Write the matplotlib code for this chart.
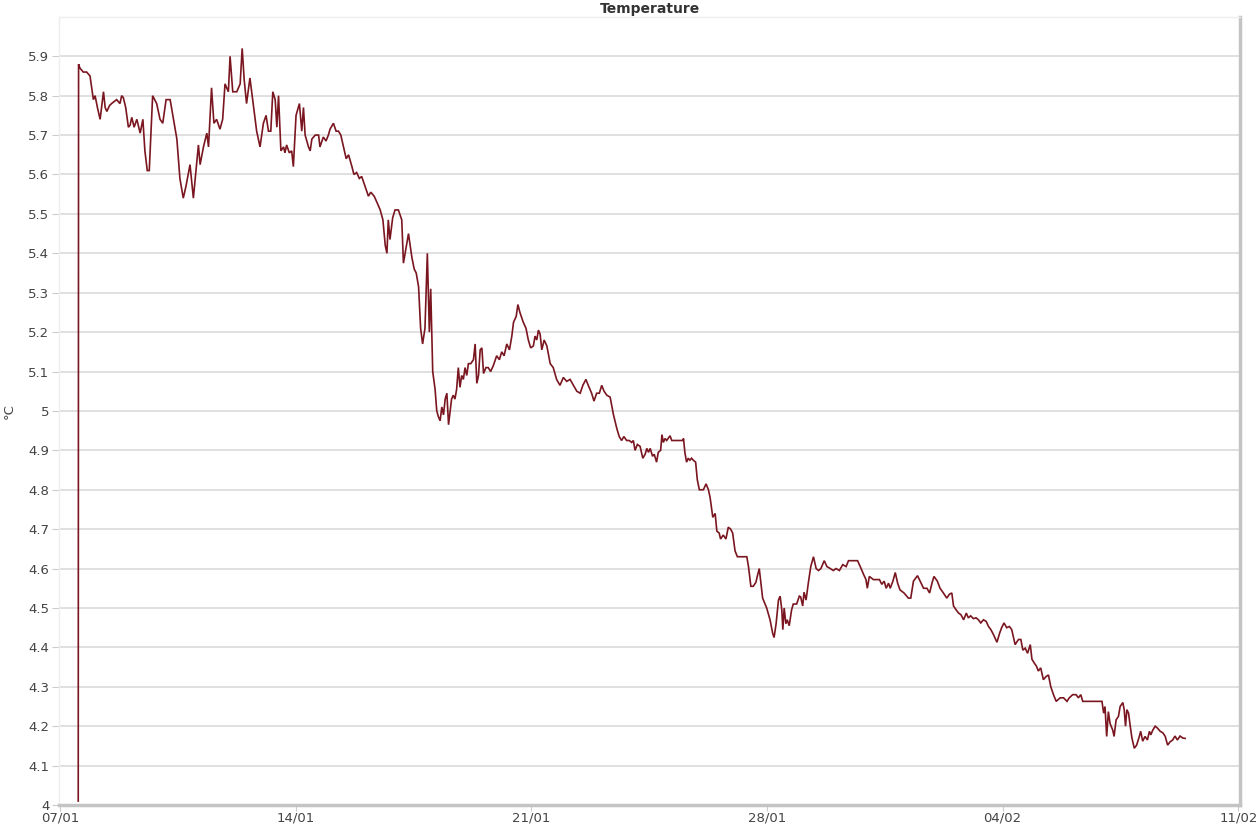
#!/usr/bin/env python3
import matplotlib
matplotlib.use("Agg")
import matplotlib.pyplot as plt
import matplotlib.dates as mdates
import numpy as np
import pandas as pd

START = pd.Timestamp("2020-01-07")

# days since 07/01 00:00, temperature in degC
days_a = [0.54, 0.55, 0.59, 0.69, 0.79, 0.89, 0.94, 0.99, 1.04, 1.11, 1.19, 1.29, 1.34, 1.39,
          1.47, 1.53, 1.68, 1.78, 1.83, 1.88, 1.95, 2.03, 2.08, 2.13, 2.20, 2.28, 2.38, 2.46,
          2.52, 2.59, 2.65, 2.75, 2.87, 2.97, 3.05, 3.15, 3.27, 3.37, 3.47, 3.56, 3.66, 3.74,
          3.86, 3.96, 4.11, 4.16, 4.26, 4.36, 4.41, 4.50, 4.57, 4.65, 4.75, 4.83, 4.90, 5.00,
          5.05, 5.13, 5.25, 5.35, 5.41, 5.47, 5.54, 5.64]
temp_a = [4.01, 5.88, 5.87, 5.86, 5.86, 5.85, 5.82, 5.79, 5.80, 5.77, 5.74, 5.81, 5.77, 5.76,
          5.775, 5.78, 5.79, 5.78, 5.80, 5.795, 5.77, 5.72, 5.725, 5.745, 5.72, 5.74, 5.705, 5.74,
          5.66, 5.61, 5.61, 5.80, 5.78, 5.74, 5.73, 5.79, 5.79, 5.74, 5.69, 5.59, 5.54, 5.57,
          5.625, 5.54, 5.675, 5.625, 5.67, 5.705, 5.67, 5.82, 5.73, 5.74, 5.715, 5.74, 5.83, 5.81,
          5.90, 5.81, 5.81, 5.83, 5.92, 5.84, 5.78, 5.845]

days_b = [5.84, 5.94, 6.04, 6.12, 6.19, 6.26, 6.32, 6.39, 6.44, 6.49, 6.56, 6.64, 6.68, 6.73,
          6.81, 6.88, 6.93, 7.01, 7.06, 7.11, 7.18, 7.23, 7.28, 7.38, 7.43, 7.48, 7.58, 7.68,
          7.72, 7.82, 7.90, 7.97, 8.02, 8.12, 8.20, 8.27, 8.34, 8.42, 8.50, 8.57, 8.67, 8.73,
          8.81, 8.89, 8.96, 9.06, 9.16, 9.23, 9.33, 9.41, 9.51, 9.59, 9.66, 9.71, 9.75, 9.80,
          9.88, 9.95, 10.05, 10.15, 10.20, 10.25, 10.35, 10.45, 10.52, 10.58, 10.65, 10.71,
          10.77, 10.84, 10.91, 10.97, 11.01, 11.07]
temp_b = [5.71, 5.67, 5.73, 5.75, 5.71, 5.71, 5.81, 5.79, 5.72, 5.80, 5.66, 5.67, 5.655, 5.675,
          5.655, 5.66, 5.62, 5.75, 5.765, 5.78, 5.71, 5.77, 5.70, 5.67, 5.66, 5.69, 5.70, 5.70,
          5.67, 5.695, 5.685, 5.70, 5.715, 5.73, 5.71, 5.71, 5.70, 5.67, 5.64, 5.65, 5.62, 5.60,
          5.605, 5.59, 5.595, 5.57, 5.545, 5.555, 5.545, 5.53, 5.51, 5.485, 5.42, 5.40, 5.485, 5.435,
          5.49, 5.51, 5.51, 5.485, 5.375, 5.40, 5.45, 5.39, 5.36, 5.35, 5.315, 5.21,
          5.17, 5.21, 5.40, 5.20, 5.31, 5.10]

days_c = [11.14, 11.19, 11.24, 11.29, 11.34, 11.39, 11.44, 11.49, 11.54, 11.59, 11.63, 11.68,
          11.73, 11.78, 11.83, 11.88, 11.93, 11.98, 12.03, 12.08, 12.13, 12.20, 12.28, 12.33,
          12.38, 12.43, 12.48, 12.53, 12.58, 12.65, 12.72, 12.79, 12.87, 12.97, 13.05, 13.12,
          13.19, 13.27, 13.35, 13.42, 13.47, 13.55, 13.60, 13.66, 13.76, 13.84, 13.91, 13.98,
          14.06, 14.11, 14.16, 14.21, 14.26, 14.31, 14.38, 14.46, 14.56, 14.65, 14.75, 14.85,
          14.95, 15.05, 15.15, 15.25, 15.35, 15.45, 15.53, 15.62, 15.69, 15.79, 15.86, 15.94,
          16.02, 16.09, 16.16, 16.24, 16.34, 16.44, 16.54]
temp_c = [5.055, 5.00, 4.985, 4.975, 5.01, 4.99, 5.03, 5.045, 4.965, 5.00, 5.03, 5.04,
          5.03, 5.055, 5.11, 5.06, 5.09, 5.08, 5.11, 5.09, 5.12, 5.12, 5.13, 5.17,
          5.07, 5.09, 5.155, 5.16, 5.095, 5.11, 5.11, 5.10, 5.115, 5.14, 5.13, 5.15,
          5.14, 5.17, 5.155, 5.19, 5.225, 5.24, 5.27, 5.25, 5.225, 5.21, 5.18, 5.16,
          5.165, 5.19, 5.18, 5.205, 5.195, 5.155, 5.18, 5.165, 5.12, 5.11, 5.08, 5.065,
          5.085, 5.075, 5.08, 5.065, 5.05, 5.045, 5.065, 5.08, 5.065, 5.045, 5.025, 5.045,
          5.045, 5.065, 5.05, 5.04, 5.035, 4.99, 4.955]

days_d = [16.61, 16.68, 16.75, 16.83, 16.91, 16.98, 17.03, 17.08, 17.15, 17.23, 17.31, 17.38,
          17.43, 17.48, 17.53, 17.60, 17.65, 17.72, 17.77, 17.84, 17.88, 17.92, 17.97, 18.02,
          18.12, 18.17, 18.50, 18.52, 18.56, 18.61, 18.66, 18.71, 18.76, 18.81, 18.88, 18.93,
          18.99, 19.11, 19.19, 19.26, 19.31, 19.39, 19.46, 19.51, 19.58, 19.62, 19.70, 19.78,
          19.85, 19.92, 19.98, 20.05, 20.12, 20.40, 20.45, 20.52, 20.59, 20.67, 20.71, 20.77,
          20.81, 20.87, 20.94, 20.99, 21.09, 21.17, 21.21, 21.27, 21.34, 21.39, 21.44, 21.47,
          21.51, 21.56, 21.60, 21.66, 21.73, 21.78, 21.88, 21.96]
temp_d = [4.935, 4.925, 4.935, 4.925, 4.925, 4.92, 4.925, 4.90, 4.915, 4.91, 4.88, 4.89,
          4.905, 4.895, 4.905, 4.885, 4.89, 4.87, 4.895, 4.90, 4.94, 4.92, 4.93, 4.925,
          4.937, 4.925, 4.925, 4.93, 4.895, 4.87, 4.88, 4.875, 4.88, 4.875, 4.87, 4.825,
          4.80, 4.80, 4.815, 4.80, 4.78, 4.73, 4.74, 4.695, 4.69, 4.675, 4.685, 4.675,
          4.705, 4.70, 4.69, 4.645, 4.63, 4.63, 4.605, 4.555, 4.555, 4.565, 4.58, 4.60,
          4.57, 4.525, 4.51, 4.50, 4.47, 4.435, 4.425, 4.46, 4.52, 4.53, 4.495, 4.445,
          4.50, 4.46, 4.47, 4.455, 4.495, 4.51, 4.51, 4.53]

days_e = [22.00, 22.06, 22.10, 22.16, 22.23, 22.30, 22.38, 22.46, 22.53, 22.60, 22.70, 22.78,
          22.88, 22.97, 23.05, 23.15, 23.25, 23.35, 23.42, 23.69, 23.77, 23.87, 23.94, 23.98,
          24.04, 24.16, 24.26, 24.34, 24.41, 24.48, 24.54, 24.61, 24.66, 24.74, 24.81, 24.88,
          24.95, 25.07, 25.20, 25.27, 25.35, 25.47, 25.55, 25.65, 25.75, 25.83, 25.90, 25.96,
          26.06, 26.14, 26.24, 26.34, 26.42, 26.49]
temp_e = [4.528, 4.505, 4.54, 4.52, 4.565, 4.605, 4.63, 4.60, 4.595, 4.60, 4.62, 4.605,
          4.60, 4.595, 4.60, 4.595, 4.61, 4.605, 4.62, 4.62, 4.605, 4.585, 4.572, 4.55,
          4.58, 4.572, 4.572, 4.572, 4.56, 4.568, 4.55, 4.563, 4.55, 4.568, 4.59, 4.563,
          4.546, 4.538, 4.525, 4.525, 4.568, 4.582, 4.568, 4.55, 4.55, 4.538, 4.563, 4.58,
          4.568, 4.55, 4.538, 4.525, 4.535, 4.538]

days_f = [26.54, 26.62, 26.69, 26.76, 26.84, 26.92, 26.98, 27.05, 27.13, 27.21, 27.28, 27.35,
          27.43, 27.51, 27.58, 27.65, 27.73, 27.83, 27.91, 27.97, 28.04, 28.12, 28.20, 28.27,
          28.37, 28.47, 28.54, 28.60, 28.67, 28.74, 28.82, 28.87, 28.94, 29.00, 29.06, 29.13,
          29.21, 29.29, 29.36, 29.43, 29.51, 29.59, 29.71, 29.81, 29.91, 29.98, 30.08, 30.18,
          30.25, 30.32, 30.38, 30.50, 30.95, 31.00, 31.04, 31.09, 31.14, 31.19, 31.27, 31.31,
          31.37, 31.44, 31.49, 31.57, 31.61, 31.65, 31.69, 31.74, 31.79, 31.84, 31.91, 31.98,
          32.06, 32.10, 32.16, 32.23, 32.30, 32.36, 32.40, 32.46, 32.53, 32.60, 32.68, 32.76,
          32.83, 32.90, 32.97, 33.05, 33.12, 33.19, 33.27, 33.35, 33.42]
temp_f = [4.505, 4.495, 4.487, 4.483, 4.47, 4.487, 4.475, 4.48, 4.473, 4.475, 4.47, 4.462,
          4.47, 4.466, 4.453, 4.445, 4.432, 4.413, 4.436, 4.45, 4.462, 4.45, 4.453, 4.445,
          4.407, 4.42, 4.42, 4.393, 4.398, 4.385, 4.407, 4.37, 4.36, 4.353, 4.34, 4.348,
          4.318, 4.326, 4.33, 4.30, 4.28, 4.263, 4.272, 4.272, 4.263, 4.272, 4.28, 4.28,
          4.272, 4.28, 4.263, 4.263, 4.263, 4.233, 4.25, 4.174, 4.237, 4.207, 4.19, 4.174,
          4.216, 4.225, 4.25, 4.26, 4.242, 4.20, 4.242, 4.233, 4.20, 4.17, 4.144, 4.152,
          4.174, 4.187, 4.162, 4.174, 4.165, 4.187, 4.178, 4.19, 4.20, 4.195, 4.187, 4.183,
          4.174, 4.152, 4.16, 4.165, 4.175, 4.165, 4.175, 4.17, 4.169]

days = days_a + days_b + days_c + days_d + days_e + days_f
temps = temp_a + temp_b + temp_c + temp_d + temp_e + temp_f
times = START + pd.to_timedelta(days, unit="D")

yticks = np.round(np.arange(4.0, 5.95, 0.1), 1)
ytick_labels = [("%g" % v) for v in yticks]
xtick_days = [0, 7, 14, 21, 28, 35]

fig = plt.figure(figsize=(12.59, 8.27), dpi=100)
ax = fig.add_axes([0.0469, 0.0266, 0.938, 0.953])

ax.plot(times, temps, color="#7a1620", linewidth=1.2, solid_joinstyle="miter")

ax.set_ylim(4.0, 6.0)
ax.set_xlim(START - pd.Timedelta(days=0.03), START + pd.Timedelta(days=35.05))
ax.set_yticks(yticks)
ax.set_yticklabels(ytick_labels)
ax.set_xticks([START + pd.Timedelta(days=d) for d in xtick_days])
ax.xaxis.set_major_formatter(mdates.DateFormatter("%d/%m"))

ax.grid(axis="y", color="#dddddd", linewidth=1.3)
ax.set_axisbelow(True)
for side in ["left", "top"]:
    ax.spines[side].set_color("#eeeeee")
    ax.spines[side].set_linewidth(1.0)
for side in ["bottom", "right"]:
    ax.spines[side].set_color("#c4c4c4")
    ax.spines[side].set_linewidth(2.5)

ax.tick_params(axis="y", length=5, color="#cccccc", labelsize=9.5, labelcolor="#444444", pad=2)
ax.tick_params(axis="x", length=4, color="#cccccc", labelsize=9.5, labelcolor="#444444", pad=1)

ax.set_ylabel("°C", fontsize=9.5, color="#444444")
ax.yaxis.set_label_coords(-0.037, 0.5)
ax.set_title("Temperature", fontsize=10, fontweight="bold", color="#333333", pad=3)

fig.savefig("out.png", dpi=100)
